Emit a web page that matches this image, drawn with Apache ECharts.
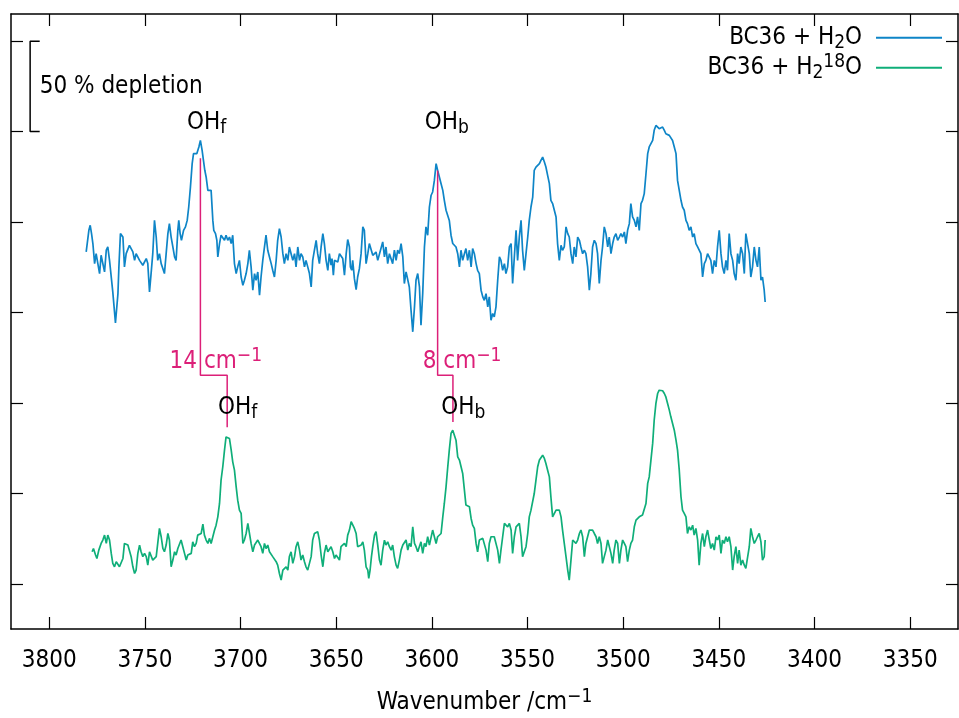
<!DOCTYPE html>
<html><head><meta charset="utf-8">
<script src="https://cdn.jsdelivr.net/npm/echarts@6/dist/echarts.min.js"></script>
<style>html,body{margin:0;padding:0;background:#fff}#c{width:959px;height:718px}</style>
</head><body><div id="c"></div>
<script>
// ---- data ----
const xTicks = [3800, 3750, 3700, 3650, 3600, 3550, 3500, 3450, 3400, 3350];
const yTicks = [0, 0.5, 1, 1.5, 2, 2.5, 3];
const seriesNames = ['BC36 + H2O', 'BC36 + H2 18O'];

const blueWn = [3780.7,3779.3,3778.6,3777.9,3777.2,3776.3,3775.5,3774.6,3773.7,3772.9,3772.0,3771.1,3770.2,3769.4,3768.5,3767.6,3766.8,3765.4,3764.1,3763.6,3762.8,3761.5,3760.7,3759.8,3758.1,3757.2,3756.3,3755.4,3754.6,3752.8,3751.1,3749.3,3748.5,3747.6,3746.7,3745.9,3745.0,3744.1,3743.3,3742.4,3741.5,3740.6,3739.8,3738.9,3738.0,3737.2,3736.3,3735.4,3734.5,3733.7,3732.8,3732.3,3731.6,3730.9,3729.8,3728.8,3727.9,3727.1,3726.2,3725.3,3724.6,3723.6,3722.9,3721.8,3721.0,3720.1,3719.4,3718.7,3718.0,3717.1,3716.3,3715.4,3714.5,3714.0,3713.1,3712.4,3711.9,3711.0,3710.2,3709.3,3708.4,3707.6,3706.7,3705.8,3704.9,3704.1,3703.2,3702.3,3701.5,3700.6,3699.7,3698.8,3698.0,3697.1,3696.2,3695.4,3694.5,3693.6,3692.7,3691.9,3691.0,3690.1,3689.3,3688.4,3687.5,3686.7,3685.8,3684.9,3684.0,3683.2,3682.3,3681.4,3680.6,3679.7,3678.8,3677.9,3677.1,3676.2,3675.3,3674.5,3673.6,3672.7,3671.8,3671.0,3670.1,3669.2,3668.4,3667.5,3666.6,3665.8,3664.9,3664.0,3663.1,3662.3,3661.4,3660.5,3659.7,3658.8,3657.9,3657.0,3656.2,3655.3,3654.4,3653.6,3652.7,3652.2,3651.5,3650.9,3650.1,3649.2,3648.3,3647.5,3646.6,3645.7,3644.8,3644.0,3643.1,3642.6,3641.9,3641.4,3640.5,3639.6,3638.8,3637.9,3637.0,3636.1,3635.3,3634.4,3633.5,3632.7,3631.8,3630.9,3630.0,3629.2,3628.3,3627.4,3625.7,3624.8,3624.0,3623.1,3622.2,3621.3,3620.5,3619.6,3618.7,3617.9,3617.0,3616.1,3615.2,3614.4,3613.5,3612.6,3611.8,3610.9,3610.0,3609.1,3608.3,3607.4,3606.5,3605.7,3604.8,3603.9,3603.1,3602.2,3601.3,3600.4,3599.6,3598.7,3597.8,3597.0,3596.1,3595.2,3594.3,3593.5,3592.6,3591.7,3590.9,3590.0,3589.1,3588.3,3587.4,3586.5,3585.6,3584.8,3583.9,3583.0,3582.2,3581.3,3580.4,3579.5,3578.7,3577.8,3576.9,3576.1,3575.2,3574.3,3573.4,3572.6,3571.7,3570.8,3570.0,3569.1,3568.2,3567.4,3566.5,3565.6,3564.7,3563.9,3563.0,3562.1,3561.3,3560.4,3559.5,3558.6,3557.8,3556.9,3556.0,3555.2,3554.3,3553.4,3552.6,3551.7,3550.8,3549.9,3549.1,3548.2,3547.3,3546.5,3545.6,3544.7,3543.8,3543.0,3542.1,3541.2,3540.4,3539.5,3538.6,3537.8,3536.9,3536.0,3535.1,3534.3,3533.4,3532.5,3531.7,3530.8,3529.9,3529.0,3528.2,3527.3,3526.4,3525.6,3524.7,3523.8,3522.9,3522.1,3521.2,3520.3,3519.5,3518.6,3517.7,3516.9,3516.0,3515.1,3514.2,3513.4,3512.5,3511.6,3510.8,3509.9,3509.0,3508.1,3507.3,3506.4,3505.5,3504.7,3503.8,3502.9,3502.0,3501.2,3500.3,3499.4,3498.6,3497.7,3496.8,3496.0,3495.1,3494.2,3493.3,3492.5,3491.6,3490.7,3489.9,3489.0,3488.1,3487.2,3486.4,3485.5,3484.6,3483.8,3482.9,3482.0,3481.2,3480.3,3479.4,3478.5,3477.7,3476.8,3475.9,3475.1,3474.2,3473.3,3472.4,3471.6,3470.7,3469.8,3469.0,3468.1,3467.2,3466.4,3465.5,3464.6,3463.7,3462.9,3462.0,3461.1,3460.3,3459.4,3458.5,3457.6,3456.8,3455.9,3455.0,3454.2,3453.3,3452.4,3451.5,3450.7,3449.8,3448.9,3448.1,3447.2,3446.3,3445.5,3444.6,3443.7,3442.8,3442.0,3441.1,3440.2,3439.4,3438.5,3437.6,3436.7,3435.9,3435.0,3434.1,3433.3,3432.4,3431.5,3430.6,3429.8,3428.9,3428.0,3427.2,3426.3,3425.8];
const blueVal = [1.835,1.954,1.982,1.936,1.881,1.770,1.825,1.770,1.715,1.816,1.825,1.724,1.844,1.862,1.788,1.788,1.614,1.442,1.604,1.752,1.936,1.917,1.752,1.825,1.871,1.853,1.835,1.788,1.825,1.788,1.761,1.798,1.770,1.614,1.724,1.825,2.009,1.917,1.788,1.825,1.770,1.742,1.715,1.825,1.936,1.991,1.917,1.862,1.807,1.788,1.954,2.009,1.936,1.899,1.954,1.973,2.009,2.083,2.194,2.323,2.378,2.387,2.378,2.415,2.451,2.396,2.341,2.286,2.249,2.175,2.184,2.175,2.009,1.954,1.936,1.899,1.807,1.881,1.927,1.917,1.899,1.927,1.899,1.917,1.881,1.927,1.770,1.715,1.752,1.788,1.696,1.650,1.678,1.715,1.770,1.844,1.752,1.623,1.715,1.678,1.724,1.595,1.696,1.788,1.862,1.927,1.844,1.807,1.770,1.733,1.696,1.788,1.899,1.963,1.917,1.825,1.770,1.825,1.788,1.862,1.825,1.788,1.825,1.752,1.862,1.788,1.825,1.807,1.752,1.788,1.752,1.715,1.641,1.788,1.844,1.899,1.825,1.770,1.862,1.936,1.881,1.788,1.733,1.825,1.761,1.798,1.706,1.788,1.798,1.779,1.825,1.816,1.798,1.706,1.825,1.903,1.862,1.752,1.733,1.788,1.687,1.626,1.696,1.742,1.825,1.973,1.954,1.770,1.825,1.881,1.881,1.816,1.807,1.834,1.788,1.788,1.890,1.807,1.862,1.770,1.825,1.835,1.770,1.844,1.788,1.844,1.825,1.881,1.807,1.660,1.724,1.715,1.641,1.512,1.393,1.531,1.678,1.715,1.641,1.429,1.604,1.862,1.973,1.927,2.083,2.148,2.166,2.230,2.323,2.286,2.249,2.212,2.175,2.120,2.065,2.074,2.009,1.927,1.881,1.890,1.862,1.825,1.752,1.844,1.788,1.825,1.853,1.788,1.844,1.752,1.853,1.825,1.770,1.733,1.715,1.623,1.586,1.567,1.604,1.531,1.586,1.457,1.494,1.475,1.531,1.678,1.807,1.788,1.733,1.770,1.715,1.752,1.862,1.881,1.660,1.807,1.954,1.788,1.917,2.009,1.844,1.733,1.825,1.917,2.009,2.083,2.138,2.286,2.304,2.313,2.323,2.341,2.359,2.332,2.304,2.258,2.212,2.120,2.102,2.065,2.028,1.881,1.788,1.871,1.844,1.862,1.973,1.936,1.917,1.825,1.770,1.862,1.807,1.917,1.899,1.862,1.825,1.844,1.825,1.752,1.623,1.715,1.862,1.899,1.881,1.825,1.660,1.788,1.862,1.973,1.936,1.862,1.917,1.825,1.881,1.917,1.936,1.899,1.917,1.936,1.917,1.945,1.881,1.954,1.991,2.102,2.028,2.009,1.973,2.028,1.954,2.102,2.120,2.157,2.267,2.378,2.415,2.433,2.451,2.507,2.534,2.525,2.516,2.516,2.525,2.507,2.488,2.497,2.479,2.488,2.451,2.415,2.378,2.230,2.175,2.120,2.083,2.065,2.009,1.991,1.954,1.973,1.917,1.936,1.881,1.862,1.862,1.825,1.696,1.770,1.788,1.825,1.825,1.788,1.715,1.788,1.752,1.862,1.954,1.825,1.752,1.715,1.788,1.733,1.936,1.825,1.788,1.715,1.678,1.825,1.770,1.862,1.825,1.715,1.936,1.936,1.825,1.696,1.752,1.862,1.788,1.752,1.862,1.678,1.696,1.623,1.558];

const greenWn = [3777.6,3776.9,3775.8,3775.1,3774.1,3772.9,3772.0,3771.1,3770.2,3769.4,3768.5,3767.6,3766.8,3765.9,3765.0,3764.1,3763.3,3762.4,3761.5,3760.7,3759.8,3758.9,3758.1,3757.2,3756.3,3755.4,3754.6,3753.7,3752.8,3752.0,3751.1,3750.2,3749.3,3748.5,3747.6,3746.7,3745.9,3745.0,3744.1,3743.3,3742.4,3741.5,3740.6,3739.8,3738.9,3738.0,3737.2,3736.3,3735.4,3734.5,3733.7,3732.8,3731.9,3731.1,3730.2,3729.3,3728.4,3727.6,3726.7,3725.8,3725.0,3724.1,3723.2,3722.4,3721.5,3720.6,3719.7,3718.9,3718.0,3717.1,3716.3,3715.4,3714.5,3713.6,3712.8,3711.9,3711.0,3710.2,3709.3,3708.4,3707.6,3706.7,3705.8,3704.9,3704.1,3703.2,3702.3,3701.5,3700.6,3699.7,3698.8,3698.0,3697.1,3696.2,3695.4,3694.5,3693.6,3692.7,3691.9,3691.0,3690.1,3689.3,3688.4,3687.5,3686.7,3685.8,3684.9,3684.0,3683.2,3682.3,3681.4,3680.6,3679.7,3678.8,3677.9,3677.1,3676.2,3675.3,3674.5,3673.6,3672.7,3671.8,3671.0,3670.1,3669.2,3668.4,3667.5,3666.6,3665.8,3664.9,3664.0,3663.1,3662.3,3661.4,3660.5,3659.7,3658.8,3657.9,3657.0,3656.2,3655.3,3654.4,3653.6,3652.7,3651.8,3650.9,3650.1,3649.2,3648.3,3647.5,3646.6,3645.7,3644.8,3644.0,3643.1,3642.2,3641.4,3640.5,3639.6,3638.8,3637.9,3637.0,3636.1,3635.3,3634.4,3633.5,3633.0,3632.3,3631.6,3630.9,3630.0,3629.2,3628.3,3627.4,3626.6,3625.7,3624.8,3624.0,3623.1,3622.2,3621.3,3620.5,3619.6,3618.7,3617.9,3617.0,3616.1,3615.2,3614.4,3613.5,3612.6,3611.8,3610.9,3610.0,3609.1,3608.3,3607.4,3606.5,3605.7,3604.8,3603.9,3603.1,3602.2,3601.3,3600.4,3599.6,3598.7,3597.8,3597.0,3596.1,3595.2,3594.3,3593.5,3592.6,3591.7,3590.9,3590.0,3589.1,3588.3,3587.4,3586.5,3585.6,3584.8,3583.9,3583.0,3582.2,3581.3,3580.4,3579.5,3578.7,3577.8,3576.9,3576.1,3575.2,3574.3,3573.4,3572.6,3571.7,3570.8,3570.0,3569.1,3568.2,3567.4,3566.5,3565.6,3564.7,3563.9,3563.0,3562.1,3561.3,3560.4,3559.5,3558.6,3557.8,3556.9,3556.0,3555.2,3554.3,3553.4,3552.6,3551.7,3550.8,3549.9,3549.1,3548.2,3547.3,3546.5,3545.6,3544.7,3543.8,3543.0,3542.1,3541.2,3540.4,3539.5,3538.6,3537.8,3536.9,3536.0,3535.1,3534.3,3533.4,3532.5,3531.7,3530.8,3529.9,3529.0,3528.2,3527.3,3526.4,3525.6,3524.7,3523.8,3522.9,3522.1,3521.2,3520.3,3519.5,3518.6,3517.7,3516.9,3516.0,3515.1,3514.2,3513.4,3512.5,3511.6,3510.8,3509.9,3509.0,3508.1,3507.3,3506.4,3505.5,3504.7,3503.8,3502.9,3502.0,3501.2,3500.3,3499.4,3498.6,3497.7,3496.8,3496.0,3495.1,3494.2,3493.3,3492.5,3491.6,3490.7,3489.9,3489.0,3488.1,3487.2,3486.4,3485.5,3484.6,3483.8,3482.9,3482.0,3481.2,3480.3,3479.4,3478.5,3477.7,3476.8,3475.9,3475.1,3474.2,3473.3,3472.4,3471.6,3470.7,3469.8,3469.0,3468.1,3467.2,3466.4,3465.5,3464.6,3463.7,3462.9,3462.0,3461.1,3460.3,3459.4,3458.5,3457.6,3456.8,3455.9,3455.0,3454.2,3453.3,3452.4,3451.5,3450.7,3449.8,3448.9,3448.1,3447.2,3446.3,3445.5,3444.6,3443.7,3442.8,3442.0,3441.1,3440.2,3439.4,3438.5,3437.6,3436.7,3435.9,3435.0,3434.1,3433.3,3432.4,3431.5,3430.6,3429.8,3428.9,3428.0,3427.2,3426.3,3425.8];
const greenVal = [0.177,0.195,0.159,0.140,0.186,0.223,0.242,0.269,0.223,0.269,0.242,0.168,0.113,0.094,0.122,0.131,0.094,0.085,0.140,0.223,0.214,0.214,0.223,0.150,0.094,0.057,0.076,0.168,0.214,0.177,0.150,0.168,0.150,0.103,0.177,0.168,0.131,0.140,0.150,0.223,0.306,0.260,0.195,0.177,0.214,0.278,0.242,0.094,0.131,0.177,0.159,0.195,0.205,0.242,0.205,0.168,0.131,0.159,0.150,0.168,0.232,0.205,0.223,0.269,0.260,0.278,0.330,0.269,0.242,0.223,0.251,0.223,0.223,0.297,0.324,0.370,0.444,0.573,0.647,0.739,0.812,0.816,0.803,0.739,0.674,0.628,0.536,0.462,0.407,0.389,0.223,0.242,0.278,0.334,0.343,0.223,0.177,0.214,0.223,0.242,0.251,0.205,0.168,0.223,0.195,0.214,0.177,0.186,0.150,0.140,0.122,0.103,0.057,0.020,0.076,0.076,0.094,0.076,0.150,0.177,0.113,0.150,0.205,0.232,0.186,0.131,0.159,0.122,0.094,0.076,0.113,0.150,0.242,0.278,0.269,0.288,0.242,0.159,0.094,0.168,0.214,0.177,0.186,0.205,0.177,0.140,0.159,0.149,0.131,0.205,0.214,0.223,0.205,0.269,0.297,0.343,0.334,0.306,0.278,0.205,0.195,0.214,0.232,0.186,0.094,0.076,0.030,0.076,0.149,0.205,0.269,0.288,0.214,0.131,0.103,0.186,0.241,0.214,0.232,0.205,0.186,0.214,0.149,0.103,0.085,0.131,0.186,0.214,0.205,0.242,0.186,0.223,0.205,0.315,0.223,0.205,0.177,0.186,0.232,0.168,0.223,0.205,0.260,0.214,0.223,0.297,0.306,0.223,0.260,0.269,0.278,0.370,0.444,0.536,0.647,0.739,0.831,0.849,0.840,0.794,0.702,0.684,0.674,0.610,0.518,0.435,0.444,0.426,0.361,0.324,0.306,0.223,0.177,0.242,0.232,0.251,0.242,0.186,0.122,0.223,0.260,0.269,0.260,0.260,0.186,0.113,0.186,0.260,0.334,0.343,0.315,0.334,0.297,0.168,0.260,0.315,0.315,0.334,0.260,0.150,0.150,0.205,0.278,0.370,0.407,0.398,0.499,0.573,0.647,0.684,0.693,0.711,0.693,0.665,0.628,0.591,0.481,0.370,0.361,0.407,0.407,0.407,0.370,0.297,0.223,0.150,0.076,0.020,0.131,0.242,0.251,0.223,0.242,0.278,0.297,0.260,0.150,0.223,0.260,0.297,0.306,0.297,0.278,0.260,0.223,0.260,0.223,0.113,0.150,0.186,0.242,0.242,0.168,0.113,0.186,0.242,0.223,0.113,0.186,0.242,0.223,0.205,0.122,0.186,0.223,0.242,0.315,0.352,0.352,0.370,0.370,0.380,0.370,0.444,0.555,0.591,0.684,0.776,0.904,0.997,1.052,1.070,1.070,1.067,1.052,1.033,0.997,0.960,0.923,0.886,0.849,0.794,0.739,0.628,0.481,0.407,0.389,0.370,0.278,0.315,0.297,0.324,0.269,0.306,0.242,0.103,0.223,0.278,0.205,0.260,0.297,0.242,0.195,0.223,0.186,0.260,0.242,0.269,0.168,0.242,0.223,0.260,0.232,0.260,0.205,0.076,0.150,0.205,0.113,0.186,0.103,0.131,0.103,0.085,0.094,0.205,0.306,0.260,0.223,0.242,0.260,0.278,0.232,0.131,0.150,0.242];

// annotation geometry (data coordinates)
const shiftF = [[3721, 2.352], [3721, 1.153], [3707, 1.153], [3707, 0.866]];
const shiftB = [[3597, 2.285], [3597, 1.153], [3589, 1.153], [3589, 0.894]];
const scaleBar = [[3805, 3.0], [3810, 3.0], [3810, 2.5], [3805, 2.5]];

// ---- styles ----
const FONT = '"DejaVu Sans Condensed", "DejaVu Sans", sans-serif';
const BLUE = '#0e85c7', GREEN = '#0fae79', PINK = '#dc1f78';
function rich(color) {
  return {
    n: {fontFamily: FONT, fontSize: 24, lineHeight: 30, verticalAlign: 'middle', color: color},
    s: {fontFamily: FONT, fontSize: 19, lineHeight: 17.6, verticalAlign: 'bottom', color: color},
    p: {fontFamily: FONT, fontSize: 19, lineHeight: 13.4, verticalAlign: 'top', color: color}
  };
}
const labels = [
  {pos: [3805, 2.75], text: '{n|50 % depletion}', align: 'left', color: '#000'},
  {pos: [3717.8, 2.548], text: '{n|OH}{s|f}', align: 'center', color: '#000'},
  {pos: [3592.2, 2.548], text: '{n|OH}{s|b}', align: 'center', color: '#000'},
  {pos: [3701.6, 0.9735], text: '{n|OH}{s|f}', align: 'center', color: '#000'},
  {pos: [3583.6, 0.9735], text: '{n|OH}{s|b}', align: 'center', color: '#000'},
  {pos: [3737.1, 1.2265], text: '{n|14 cm}{p|\u22121}', align: 'left', color: PINK},
  {pos: [3604.8, 1.2265], text: '{n|8 cm}{p|\u22121}', align: 'left', color: PINK}
];

const zip = (a, b) => a.map((v, i) => [v, b[i]]);
const axisLineStyle = {color: '#000', width: 1.5};
const tickStyle = {color: '#000', width: 1.2};

function xAx(pos, withLabels) {
  const ax = {
    type: 'value', position: pos, min: 3325, max: 3820, inverse: true,
    axisLine: {show: true, onZero: false, lineStyle: axisLineStyle},
    axisTick: {show: true, inside: true, length: 12, customValues: xTicks, lineStyle: tickStyle},
    axisLabel: {show: withLabels, customValues: xTicks, formatter: v => String(v),
                fontFamily: FONT, fontSize: 24, lineHeight: 24, margin: 20, color: '#000'},
    splitLine: {show: false}
  };
  if (withLabels) {
    ax.name = '{n|Wavenumber /cm}{p|\u22121}';
    ax.nameLocation = 'middle';
    ax.nameGap = 59;
    ax.nameTextStyle = {color: '#000', rich: rich('#000')};
  }
  return ax;
}
function yAx(pos) {
  return {
    type: 'value', position: pos, min: -0.25, max: 3.15,
    axisLine: {show: true, onZero: false, lineStyle: axisLineStyle},
    axisTick: {show: true, inside: true, length: 12, customValues: yTicks, lineStyle: tickStyle},
    axisLabel: {show: false},
    splitLine: {show: false}
  };
}

const chart = echarts.init(document.getElementById('c'), null, {renderer: 'canvas'});
chart.setOption({
  animation: false,
  backgroundColor: '#fff',
  grid: {left: 11, right: 1, top: 14, bottom: 89, outerBoundsMode: 'none'},
  xAxis: [xAx('bottom', true), xAx('top', false)],
  yAxis: [yAx('left'), yAx('right')],
  legend: {
    data: seriesNames, orient: 'vertical', align: 'right', right: 16, top: 25.7, padding: 0,
    itemWidth: 66, itemHeight: 14, itemGap: 0, selectedMode: false,
    itemStyle: {opacity: 0},
    formatter: function (name) {
      return name === seriesNames[0] ? '{n|BC36 + H}{s|2}{n|O}' : '{n|BC36 + H}{s|2}{p|18}{n|O}';
    },
    textStyle: {color: '#000', padding: [0, 9, 0, 0], rich: rich('#000')}
  },
  series: [
    {name: seriesNames[0], type: 'line', data: zip(blueWn, blueVal), symbol: 'none', color: BLUE,
     lineStyle: {color: BLUE, width: 1.7}, z: 3},
    {name: seriesNames[1], type: 'line', data: zip(greenWn, greenVal), symbol: 'none', color: GREEN,
     lineStyle: {color: GREEN, width: 1.7}, z: 3},
    {name: 'shiftF', type: 'line', data: shiftF, symbol: 'none', color: PINK, lineStyle: {color: PINK, width: 1.5}, z: 4, silent: true},
    {name: 'shiftB', type: 'line', data: shiftB, symbol: 'none', color: PINK, lineStyle: {color: PINK, width: 1.5}, z: 4, silent: true},
    {name: 'scale', type: 'line', data: scaleBar, symbol: 'none', color: '#000', lineStyle: {color: '#000', width: 1.5}, z: 4, silent: true},
    {name: 'labels', type: 'scatter', symbolSize: 2, silent: true, z: 5,
     itemStyle: {color: 'rgba(0,0,0,0)', opacity: 1},
     data: labels.map(l => ({
       value: l.pos,
       label: {show: true, position: 'inside', formatter: l.text, align: l.align, verticalAlign: 'middle',
               color: l.color, opacity: 1, textBorderWidth: 0, rich: rich(l.color)}
     }))}
  ]
});
</script>
</body></html>
